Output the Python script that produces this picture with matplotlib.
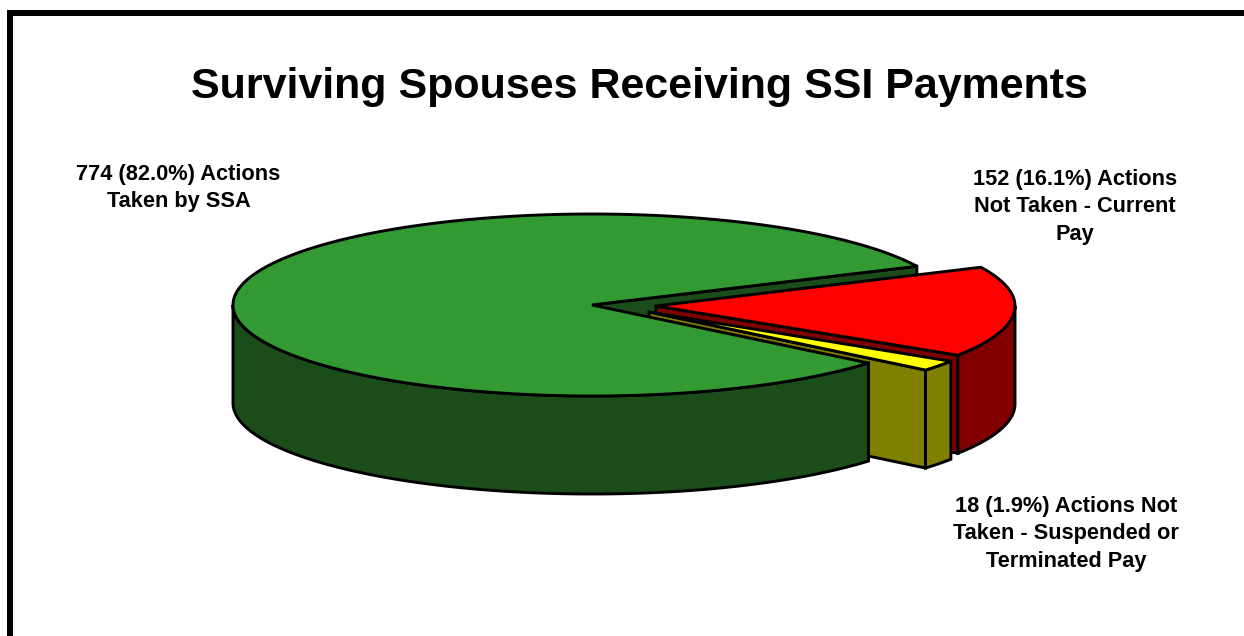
import matplotlib
matplotlib.use('Agg')
import matplotlib.pyplot as plt
from matplotlib.patches import Polygon, Rectangle
import numpy as np

title = 'Surviving Spouses Receiving SSI Payments'
counts = [774, 152, 18]
labels = ['774 (82.0%) Actions\nTaken by SSA',
          '152 (16.1%) Actions\nNot Taken - Current\nPay',
          '18 (1.9%) Actions Not\nTaken - Suspended or\nTerminated Pay']
top_colors = ['#339933', '#ff0000', '#ffff00']
side_colors = ['#1a4d1a', '#800000', '#808000']

# pie geometry in pixels
RX, RY, DEPTH = 359, 91, 98
START = 25.2
LW = 2.1
centers = [(592, 305), (656, 306), (649, 312)]


def arc(c, a, b, dy=0):
    t = np.radians(np.linspace(a, b, 200))
    return np.column_stack([c[0] + RX * np.cos(t), c[1] - RY * np.sin(t) + dy])


def poly(ax, pts, color):
    ax.add_patch(Polygon(pts, closed=True, facecolor=color, edgecolor='black',
                         linewidth=LW, joinstyle='miter'))


def outer_wall(ax, c, a, b, color):
    # only the front part of the rim shows
    poly(ax, np.vstack([arc(c, a, b), arc(c, b, a, DEPTH)]), color)


def radial_wall(ax, c, a, color):
    p = arc(c, a, a)[0]
    poly(ax, [c, p, (p[0], p[1] + DEPTH), (c[0], c[1] + DEPTH)], color)


def top(ax, c, a, b, color):
    poly(ax, np.vstack([[c], arc(c, a, b)]), color)


fig = plt.figure(figsize=(12.44, 6.36), dpi=100)
ax = fig.add_axes([0, 0, 1, 1])
ax.set_xlim(0, 1244)
ax.set_ylim(636, 0)
ax.axis('off')

# frame only on the left and top
ax.add_patch(Rectangle((7, 10), 6, 626, color='black', linewidth=0))
ax.add_patch(Rectangle((7, 10), 1237, 6, color='black', linewidth=0))

sweep = 360 * np.array(counts) / sum(counts)
g_a = START
g_b = START + sweep[0]
r_a = START - sweep[1]
r_b = START
y_a = r_a - sweep[2]
y_b = r_a

# back to front
radial_wall(ax, centers[0], g_a, side_colors[0])

radial_wall(ax, centers[1], r_a, side_colors[1])
outer_wall(ax, centers[1], r_a, 0, side_colors[1])
top(ax, centers[1], r_a, r_b, top_colors[1])

radial_wall(ax, centers[2], y_a, side_colors[2])
outer_wall(ax, centers[2], y_a, y_b, side_colors[2])
top(ax, centers[2], y_a, y_b, top_colors[2])

outer_wall(ax, centers[0], 180, g_b, side_colors[0])
top(ax, centers[0], g_a, g_b, top_colors[0])

font = ['Liberation Sans', 'DejaVu Sans']
ax.text(639, 87, title, ha='center', va='center', fontsize=31,
        fontweight='bold', family=font)
label_pos = [(178.5, 188), (1075, 207), (1066, 534)]
for (x, y), s in zip(label_pos, labels):
    ax.text(x, y, s, ha='center', va='center', fontsize=15.7, fontweight='bold',
            family=font, linespacing=1.42)

fig.savefig('out.png', dpi=100)
